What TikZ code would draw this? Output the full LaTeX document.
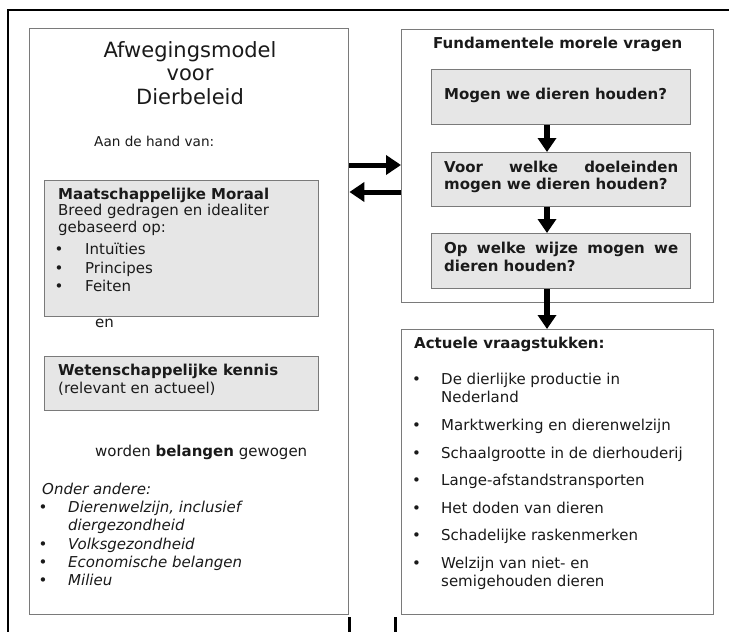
\documentclass[tikz,border=0pt]{standalone}
\usepackage{fontspec}
\setmainfont{DejaVu Sans}
\usetikzlibrary{arrows.meta}
\definecolor{bordergray}{HTML}{7A7A7A}
\definecolor{boxfill}{HTML}{E6E6E6}
\definecolor{ink}{HTML}{1A1A1A}
\begin{document}
\begin{tikzpicture}[x=1pt,y=-1pt,
  panel/.style={draw=bordergray, line width=1.4pt, fill=white, inner sep=0pt, anchor=north west},
  graybox/.style={panel, fill=boxfill},
  txt/.style={anchor=mid west, inner sep=0pt, text=ink, font=\fontsize{15}{18}\selectfont},
  bld/.style={txt, font=\fontsize{15}{18}\selectfont\bfseries},
  itl/.style={txt, font=\fontsize{15}{18}\selectfont\itshape},
  ttl/.style={anchor=mid, inner sep=0pt, text=ink, font=\fontsize{21}{25}\selectfont},
  harr/.style={line width=5pt, draw=black, -{Triangle[length=15pt,width=19pt]}},
  varr/.style={line width=6.5pt, draw=black, -{Triangle[length=14pt,width=18pt]}},
  frame/.style={line width=2pt, draw=black},
  stub/.style={line width=3pt, draw=black}]
\useasboundingbox (0,0) rectangle (729,632);
% outer frame
\draw[frame] (729,10) -- (8,10) -- (8,632);
% panels
\node[panel, minimum width=319pt, minimum height=586pt] (left) at (29,28) {};
\node[graybox, minimum width=274pt, minimum height=136pt] (moraal) at (44,180) {};
\node[graybox, minimum width=274pt, minimum height=54pt] (wet) at (44,356) {};
\node[panel, minimum width=312pt, minimum height=273pt] (fund) at (401,29) {};
\node[graybox, minimum width=259pt, minimum height=55pt] (q1) at (431,69) {};
\node[graybox, minimum width=259pt, minimum height=54pt] (q2) at (431,152) {};
\node[graybox, minimum width=259pt, minimum height=55pt] (q3) at (431,233) {};
\node[panel, minimum width=312pt, minimum height=285pt] (act) at (401,329) {};
% left texts
\node[ttl] (t1) at (190,55) {Afwegingsmodel};
\node[ttl] (t2) at (190,78) {voor};
\node[ttl] (t3) at (190,102) {Dierbeleid};
\node[txt, font=\fontsize{13.6}{16}\selectfont] (t4) at (94,144) {Aan de hand van:};
\node[bld] (t5) at (58,197) {Maatschappelijke Moraal};
\node[txt] (t6) at (58,213) {Breed gedragen en idealiter};
\node[txt] (t7) at (58,230) {gebaseerd op:};
\node[txt] (b1) at (54.5,252) {•};
\node[txt] (t8) at (85,252) {Intuïties};
\node[txt] (b2) at (54.5,271) {•};
\node[txt] (t9) at (85,271) {Principes};
\node[txt] (b3) at (54.5,289) {•};
\node[txt] (t10) at (85,289) {Feiten};
\node[txt] (t11) at (95,325) {en};
\node[bld] (t12) at (58,373) {Wetenschappelijke kennis};
\node[txt] (t13) at (58,391) {(relevant en actueel)};
\node[txt] (t14) at (95,454) {worden \textbf{belangen} gewogen};
\node[itl] (t15) at (42,492) {Onder andere:};
\node[txt] (b4) at (38.5,510) {•};
\node[itl] (t16) at (68,510) {Dierenwelzijn, inclusief};
\node[itl] (t17) at (68,528) {diergezondheid};
\node[txt] (b5) at (38.5,547) {•};
\node[itl] (t18) at (68,547) {Volksgezondheid};
\node[txt] (b6) at (38.5,565) {•};
\node[itl] (t19) at (68,565) {Economische belangen};
\node[txt] (b7) at (38.5,583) {•};
\node[itl] (t20) at (68,583) {Milieu};
% right texts
\node[bld] (f1) at (433,46) {Fundamentele morele vragen};
\node[bld] (f2) at (444,97) {Mogen we dieren houden?};
\node[bld] (f3) at (444,170) {\makebox[234pt][s]{Voor welke doeleinden}};
\node[bld] (f4) at (444,187) {mogen we dieren houden?};
\node[bld] (f5) at (444,251) {\makebox[234pt][s]{Op welke wijze mogen we}};
\node[bld] (f6) at (444,269) {dieren houden?};
\node[bld] (a0) at (414,346) {Actuele vraagstukken:};
\node[txt] (ab1) at (412,382) {•};
\node[txt] (a1) at (441,382) {De dierlijke productie in};
\node[txt] (a2) at (441,400) {Nederland};
\node[txt] (ab2) at (412,428) {•};
\node[txt] (a3) at (441,428) {Marktwerking en dierenwelzijn};
\node[txt] (ab3) at (412,456) {•};
\node[txt] (a4) at (441,456) {Schaalgrootte in de dierhouderij};
\node[txt] (ab4) at (412,483) {•};
\node[txt] (a5) at (441,483) {Lange-afstandstransporten};
\node[txt] (ab5) at (412,511) {•};
\node[txt] (a6) at (441,511) {Het doden van dieren};
\node[txt] (ab6) at (412,538) {•};
\node[txt] (a7) at (441,538) {Schadelijke raskenmerken};
\node[txt] (ab7) at (412,566) {•};
\node[txt] (a8) at (441,566) {Welzijn van niet- en};
\node[txt] (a9) at (441,584) {semigehouden dieren};
% arrows
\draw[harr] (left.east |- 0,165) -- (fund.west |- 0,165);
\draw[harr] (fund.west |- 0,192) -- (left.east |- 0,192);
\draw[varr] (q1.south -| 547,0) -- (q2.north -| 547,0);
\draw[varr] (q2.south -| 547,0) -- (q3.north -| 547,0);
\draw[varr] (q3.south -| 547,0) -- (act.north -| 547,0);
% bottom stubs
\draw[stub] (left.south east -| 349,0) ++(0,2) -- (349,632);
\draw[stub] (act.south west -| 395,0) ++(0,2) -- (395,632);
\end{tikzpicture}
\end{document}
